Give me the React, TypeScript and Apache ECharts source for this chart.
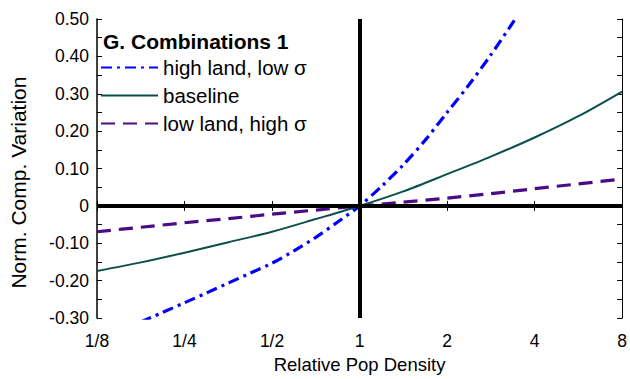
import React, { useEffect, useRef } from "react";
import * as echarts from "echarts";

// Relative pop density (x) sample points
const densityHalfOctave = [0.125, 0.177, 0.25, 0.354, 0.5, 0.707, 1, 1.414, 2, 2.828, 4, 5.657, 8];
const baselineValues = [-0.174, -0.151, -0.125, -0.097, -0.069, -0.035, 0, 0.039, 0.085, 0.132, 0.183, 0.24, 0.306];
const lowLandHighSigma = [-0.069, -0.057, -0.045, -0.034, -0.022, -0.011, 0, 0.01, 0.021, 0.033, 0.046, 0.059, 0.072];

const densityQuarterOctave = [
  0.177, 0.21, 0.25, 0.297, 0.354, 0.42, 0.5, 0.595, 0.707, 0.841, 1, 1.189, 1.414, 1.682, 2, 2.378, 2.828, 3.364, 4,
];
const highLandLowSigma = [
  -0.31, -0.285, -0.259, -0.233, -0.206, -0.18, -0.153, -0.12, -0.084, -0.043, 0, 0.052, 0.11, 0.176, 0.25, 0.324,
  0.404, 0.49, 0.58,
];

const seriesNames = ["high land, low \u03c3", "baseline", "low land, high \u03c3"];
const titleText = "G. Combinations 1";
const xName = "Relative Pop Density";
const yName = "Norm. Comp. Variation";

const FONT = "'Liberation Sans', Arial, sans-serif";

function pairs(xs: number[], ys: number[]) {
  return xs.map((x, i) => [x, ys[i]]);
}

function xLabel(v: number) {
  if (v < 1) return "1/" + Math.round(1 / v);
  return String(Math.round(v));
}

function yLabel(v: number) {
  const k = Math.round(v * 100);
  if (k % 10 !== 0) return "";
  if (k === 0) return "0";
  return (k / 100).toFixed(2);
}

export default function App() {
  const ref = useRef<HTMLDivElement>(null);
  useEffect(() => {
    if (!ref.current) return;
    const chart = echarts.init(ref.current, null, { renderer: "svg" });
    const xBase = {
      type: "log",
      logBase: 2,
      min: 0.125,
      max: 8,
      splitLine: { show: false },
      axisTick: { inside: true, length: 5, lineStyle: { color: "#000", width: 1 } },
    };
    const yBase = {
      type: "value",
      min: -0.3,
      max: 0.5,
      interval: 0.05,
      splitLine: { show: false },
      axisTick: { inside: true, length: 5, lineStyle: { color: "#000", width: 1 } },
    };
    chart.setOption({
      animation: false,
      textStyle: { fontFamily: FONT, color: "#000" },
      grid: { left: 96, right: 5, top: 19, bottom: 56, containLabel: false },
      title: {
        text: titleText,
        left: 103,
        top: 31,
        padding: 0,
        textStyle: { fontSize: 21, fontWeight: "bold", color: "#000", fontFamily: FONT },
      },
      legend: {
        orient: "vertical",
        left: 100,
        top: 57,
        padding: 0,
        itemWidth: 57,
        itemHeight: 20,
        itemGap: 7,
        data: seriesNames,
        itemStyle: { color: "transparent", borderColor: "transparent", borderWidth: 0, opacity: 0 },
        textStyle: { fontSize: 20.5, color: "#000", fontFamily: FONT },
      },
      xAxis: [
        {
          ...xBase,
          position: "bottom",
          axisLine: { lineStyle: { color: "#000", width: 1.5 } },
          axisLabel: { fontSize: 17.5, color: "#000", margin: 14, formatter: xLabel },
          name: xName,
          nameLocation: "middle",
          nameGap: 35,
          nameTextStyle: { fontSize: 18.5, color: "#000", fontFamily: FONT },
        },
        {
          ...xBase,
          position: "top",
          axisLine: { lineStyle: { color: "#777", width: 1.5 } },
          axisLabel: { show: false },
        },
      ],
      yAxis: [
        {
          ...yBase,
          position: "left",
          axisLine: { lineStyle: { color: "#000", width: 1.5 } },
          axisLabel: { fontSize: 17.5, color: "#000", margin: 8, formatter: yLabel },
          name: yName,
          nameLocation: "middle",
          nameGap: 68,
          nameTextStyle: { fontSize: 21, color: "#000", fontFamily: FONT, padding: [0, 28, 0, 0] },
        },
        {
          ...yBase,
          position: "right",
          axisLine: { lineStyle: { color: "#000", width: 1 } },
          axisLabel: { show: false },
        },
      ],
      series: [
        {
          name: "zero",
          type: "line",
          data: [],
          silent: true,
          markLine: {
            silent: true,
            symbol: ["none", "none"],
            label: { show: false },
            lineStyle: { color: "#000", width: 4, type: "solid" },
            data: [{ yAxis: 0 }, { xAxis: 1 }],
          },
        },
        {
          name: seriesNames[0],
          type: "line",
          data: pairs(densityQuarterOctave, highLandLowSigma),
          smooth: 0.3,
          symbol: "none",
          clip: true,
          lineStyle: { color: "#0000ff", width: 3.2, type: [11, 5, 3, 5] },
          itemStyle: { color: "#0000ff" },
        },
        {
          name: seriesNames[1],
          type: "line",
          data: pairs(densityHalfOctave, baselineValues),
          smooth: 0.3,
          symbol: "none",
          clip: true,
          lineStyle: { color: "#0a4f4a", width: 2, type: "solid" },
          itemStyle: { color: "#0a4f4a" },
        },
        {
          name: seriesNames[2],
          type: "line",
          data: pairs(densityHalfOctave, lowLandHighSigma),
          smooth: 0.3,
          symbol: "none",
          clip: true,
          lineStyle: { color: "#4a0c86", width: 3.2, type: [14, 8] },
          itemStyle: { color: "#4a0c86" },
        },
      ],
    });
    return () => chart.dispose();
  }, []);
  return (
    <div
      ref={ref}
      style={{ position: "fixed", left: 0, top: 0, width: 630, height: 379, background: "#fff" }}
    />
  );
}
